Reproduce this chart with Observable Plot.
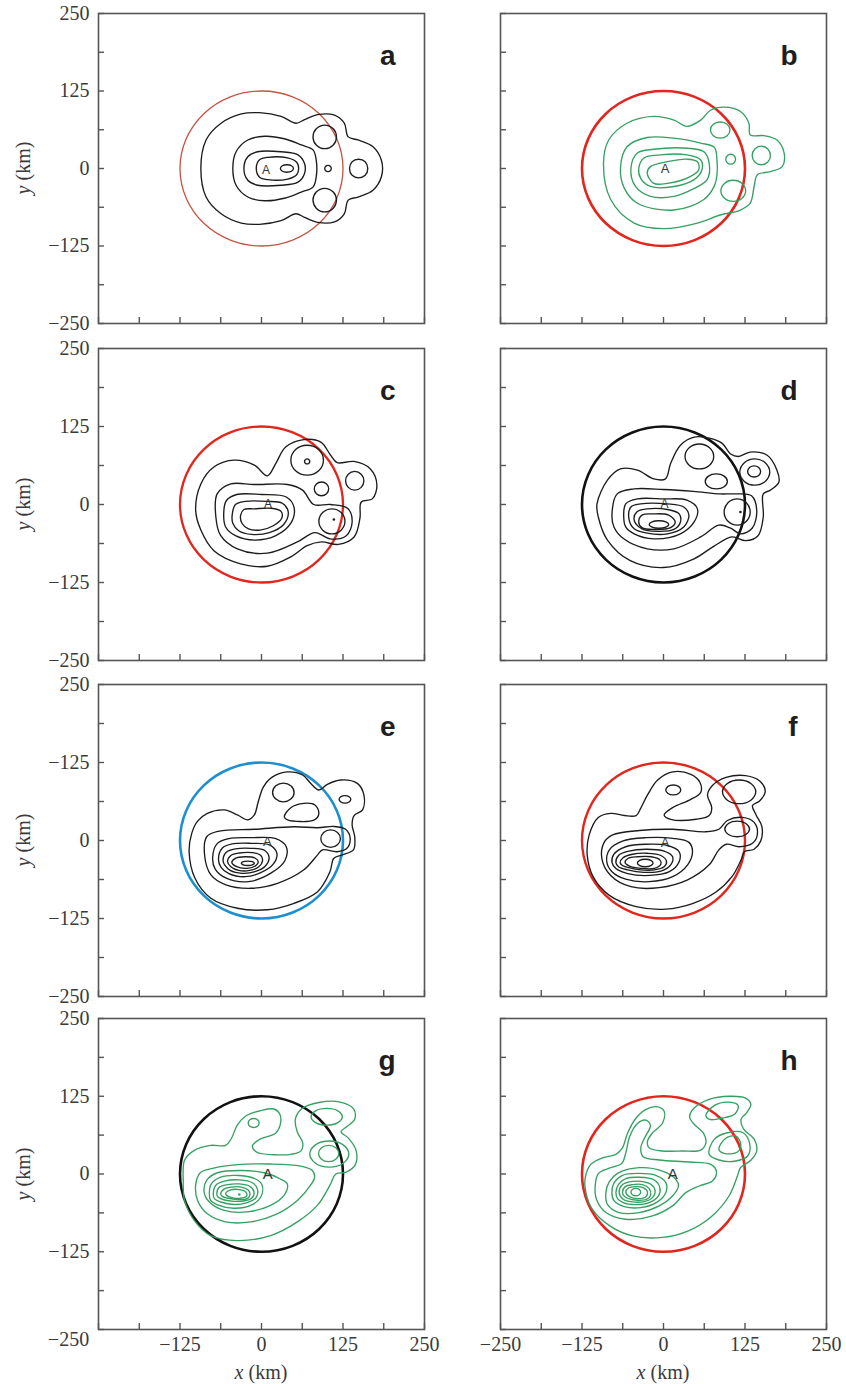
<!DOCTYPE html>
<html>
<head>
<meta charset="utf-8">
<script src="https://cdn.jsdelivr.net/npm/d3@7"></script>
<script src="https://cdn.jsdelivr.net/npm/@observablehq/plot@0.6"></script>
<style>
  body { margin: 0; background: #fff; }
  #wrap { position: relative; width: 846px; height: 1384px; overflow: hidden; }
  .cell { position: absolute; }
  .cell svg { overflow: visible; }
  .axt { position: absolute; font-family: "Liberation Serif", "Times New Roman", serif; font-size: 20px; color: #3a3a3a; white-space: nowrap; line-height: 1; }
</style>
</head>
<body>
<div id="wrap"></div>
<script>
// ---------- axis ticks & labels ----------
const ticksAll = [-250, -187.5, -125, -62.5, 0, 62.5, 125, 187.5, 250];
const ticksMajor = [-250, -125, 0, 125, 250];
const yLabelsStd = ["−250", "−125", "0", "125", "250"];
const yLabelsE   = ["−250", "−125", "0", "−125", "250"];
const yLabelsG   = ["", "−125", "0", "125", "250"];
const xLabelsG   = ["", "−125", "0", "125", "250"];
const xLabelsH   = ["−250", "−125", "0", "125", "250"];
const cornerLabelG = [{x: -250, t: "−250"}];
const panelLetters = ["a", "b", "c", "d", "e", "f", "g", "h"];

// radius-125 km reference circle (km)
const ringPts = [[125,0],[115.5,47.8],[88.4,88.4],[47.8,115.5],[0,125],[-47.8,115.5],[-88.4,88.4],[-115.5,47.8],
                 [-125,0],[-115.5,-47.8],[-88.4,-88.4],[-47.8,-115.5],[0,-125],[47.8,-115.5],[88.4,-88.4],[115.5,-47.8]];

// position of label "A" per panel (km)
const pointA = [[7,-2],[2.6,0],[10,0],[1.5,1],[9,-2],[2.6,-3],[9.5,0],[14,-1]];

// ---------- contour lines (closed loops, km) ----------
const contoursA = [
  [[-93,0],[-85,46],[-62,73],[-31,88],[-3,90],[30,84],[53,73],[66,79],[86,87],[112,86],[127,73],[133,51],[148,46],[171,35],[184,13],[184,-13],[171,-35],[148,-46],[133,-51],[127,-73],[112,-86],[86,-87],[66,-79],[53,-73],[30,-84],[-3,-90],[-31,-88],[-62,-73],[-85,-46]],
  [[-44,0],[-39,27],[-21,46],[5,52],[35,48],[61,38],[79,30],[84,13],[84,-13],[79,-30],[61,-38],[35,-48],[5,-52],[-21,-46],[-39,-27]],
  [[-27,0],[-21,19],[-6,27],[30,27],[56,22],[66,8],[66,-8],[56,-22],[30,-27],[-6,-27],[-21,-19]],
  [[-8,0],[-3,14],[10,18],[40,17],[54,10],[57,0],[54,-10],[40,-17],[10,-18],[-3,-14]],
  [[29,0],[32,4.5],[39,6],[46,4.5],[49,0],[46,-4.5],[39,-6],[32,-4.5]],
  [[79,51],[84,64],[97,70],[110,64],[115,51],[110,38],[97,32],[84,38]],
  [[79,-51],[84,-38],[97,-32],[110,-38],[115,-51],[110,-64],[97,-70],[84,-64]],
  [[97,0],[98.5,3.5],[102,5],[105.5,3.5],[107,0],[105.5,-3.5],[102,-5],[98.5,-3.5]],
  [[135,0],[139,11],[149,15],[159,11],[163,0],[159,-11],[149,-15],[139,-11]]
];

const contoursB = [
  [[-92,9],[-84,46],[-56,73],[-15,84],[16,78],[36,68],[57,78],[72,94],[93,99],[118,92],[131,73],[133,54],[154,53],[174,46],[185,25],[182,3],[164,-5],[144,-10],[139,-29],[133,-56],[118,-67],[87,-75],[52,-88],[0,-97],[-45,-88],[-81,-50]],
  [[-66,0],[-56,35],[-25,50],[16,49],[57,41],[78,34],[82,14],[82,-10],[78,-28],[62,-50],[16,-67],[-40,-56],[-60,-32]],
  [[-50,0],[-40,25],[-15,31],[31,33],[62,27],[70,9],[67,-18],[47,-32],[16,-45],[-20,-45],[-43,-29]],
  [[-38,0],[-30,17],[-5,22],[36,22],[57,14],[59,-2],[47,-18],[16,-29],[-20,-29],[-35,-16]],
  [[-25,-7.5],[-20,3],[6,11],[36,15],[52,11],[54,-2],[41,-13],[6,-24],[-15,-24]],
  [[72,62],[76.4,71.2],[87,75],[97.6,71.2],[102,62],[97.6,52.8],[87,49],[76.4,52.8]],
  [[95.5,15],[97.7,20.7],[103,23],[108.3,20.7],[110.5,15],[108.3,9.3],[103,7],[97.7,9.3]],
  [[136,21],[140,31.6],[150,36],[160,31.6],[164,21],[160,10.4],[150,6],[140,10.4]],
  [[88,-36],[93.6,-24],[107,-19],[120.4,-24],[126,-36],[120.4,-48],[107,-53],[93.6,-48]]
];

const contoursC = [
  [[-101,-9],[-93,33],[-73,60],[-42,71],[-11,63],[9,46],[22,66],[37,92],[65,104],[91,100],[106,79],[116,67],[142,69],[167,57],[177,31],[170,9],[153,4],[151,-22],[142,-52],[118,-64],[92,-60],[70,-66],[45,-84],[9,-99],[-32,-95],[-73,-74],[-93,-41]],
  [[-70,-20],[-68,17],[-47,33],[-11,32],[40,32],[63,23],[80,0],[106,0],[132,-6],[139,-28],[130,-50],[105,-55],[82,-45],[55,-60],[9,-78],[-37,-71],[-63,-49]],
  [[-58,-17],[-54,6],[-38,16],[0,16],[38,12],[50,-5],[45,-30],[22,-50],[-10,-57],[-40,-50],[-55,-36]],
  [[-45,-17],[-40,0],[-25,5],[8,5],[32,2],[41,-12],[34,-32],[12,-45],[-15,-48],[-35,-42],[-44,-30]],
  [[-32,-17],[-27,-8],[-11,-7],[15,-6],[30,-11],[31,-22],[18,-34],[-2,-41],[-20,-39],[-30,-30]],
  [[45,71],[52.3,88],[70,95],[87.7,88],[95,71],[87.7,54],[70,47],[52.3,54]],
  [[66,69],[67.2,71.8],[70,73],[72.8,71.8],[74,69],[72.8,66.2],[70,65],[67.2,66.2]],
  [[81,25],[84.2,32.8],[92,36],[99.8,32.8],[103,25],[99.8,17.2],[92,14],[84.2,17.2]],
  [[129,38],[133.1,48.6],[143,53],[152.9,48.6],[157,38],[152.9,27.4],[143,23],[133.1,27.4]],
  [[88,-27],[93.9,-12.9],[108,-7],[122.1,-12.9],[128,-27],[122.1,-41.1],[108,-47],[93.9,-41.1]]
];

const contoursD = [
  [[-102,1],[-86,39],[-66,57],[-40,55],[-15,41],[3,41],[11,66],[26,95],[47,108],[72,106],[90,98],[103,81],[115,77],[133,84],[159,79],[174,55],[177,36],[164,23],[153,17],[153,-20],[145,-50],[126,-58],[105,-52],[77,-67],[47,-87],[0,-101],[-51,-90],[-86,-57],[-100,-20]],
  [[-79,-15],[-71,17],[-45,25],[0,24],[46,21],[87,17],[108,17],[135,14],[143,-10],[136,-38],[118,-47],[103,-38],[85,-33],[57,-52],[16,-71],[-25,-71],[-61,-55],[-76,-36]],
  [[-61,-20],[-58,1],[-40,9],[0,9],[36,7],[52,-7],[47,-28],[26,-47],[-15,-55],[-45,-47],[-58,-36]],
  [[-53,-23],[-50,-4],[-35,1],[6,1],[31,-4],[39,-17],[31,-36],[6,-47],[-25,-46],[-45,-39]],
  [[-45,-25],[-41,-12],[-25,-7],[6,-8],[24,-15],[26,-28],[16,-40],[-10,-43],[-33,-39]],
  [[-38,-28],[-33,-17],[-15,-15],[8,-17],[18,-28],[11,-37],[-15,-40],[-33,-37]],
  [[-22,-32],[-17.6,-27.8],[-7,-26],[3.6,-27.8],[8,-32],[3.6,-36.2],[-7,-38],[-17.6,-36.2]],
  [[33,77],[39.4,91],[55,97],[70.6,91],[77,77],[70.6,63],[55,57],[39.4,63]],
  [[64,37],[69,45.5],[81,49],[93,45.5],[98,37],[93,28.5],[81,25],[69,28.5]],
  [[129,53],[132,59.4],[139,62],[146,59.4],[149,53],[146,46.6],[139,44],[132,46.6]],
  [[117,52],[124,67],[140,73],[156,67],[163,52],[156,37],[140,31],[124,37]],
  [[93,-12],[98.9,2.8],[113,9],[127.1,2.8],[133,-12],[127.1,-26.8],[113,-33],[98.9,-26.8]]
];

const contoursE = [
  [[-111,-18],[-107,11.5],[-98,31],[-83,43.5],[-57,49],[-37,41],[-21,33],[-11,41],[-5,62],[3,86],[17,102],[40,110],[63,105],[75.6,91.5],[88,81],[101,90],[121.6,97],[147,91.5],[157,73],[155,49],[142,40],[139,25],[143,6],[141,-15],[124,-23],[111,-28.5],[105,-50],[86,-82],[50,-100.6],[9,-111],[-37,-108.6],[-77.6,-92.6],[-102,-60.5]],
  [[-87,-26],[-84,6],[-65,15],[-11,18],[50,22],[86,20.5],[111,22.5],[129,18],[136,3.5],[131,-12.5],[116,-18],[93.5,-15],[86,-23],[65,-47],[24.5,-68.6],[-16,-76.6],[-54.6,-71],[-77.6,-55]],
  [[-75,-28],[-68,-5],[-50,3],[-16,4.5],[22,3],[38,-10],[36,-32],[15,-52],[-20,-66],[-55,-60],[-71,-46]],
  [[-66,-30],[-60,-12],[-45,-5.5],[-16,-4.5],[12,-7],[23.5,-20],[18,-38],[-2,-52],[-25,-58],[-50,-53],[-62,-43]],
  [[-59,-32],[-54,-19],[-40,-13.5],[-16,-12.5],[5,-16],[11.7,-28],[6,-41],[-10,-50],[-30,-52.6],[-48,-48],[-56,-40]],
  [[-52,-34],[-47,-24],[-34,-20],[-14,-19.5],[-1,-24],[1.5,-33],[-4,-42],[-18,-48],[-35,-48],[-47,-42]],
  [[-45.5,-35],[-40,-28.5],[-25,-26],[-10,-28],[-5,-34],[-9,-40.5],[-22,-44.6],[-38,-42]],
  [[-31,-36.5],[-28,-34],[-21,-33],[-14,-34],[-11,-36.5],[-14,-39],[-21,-40],[-28,-39]],
  [[17,77],[22,87.6],[33.5,92],[45,87.6],[50,77],[45,66.4],[33.5,62],[22,66.4]],
  [[35,38],[45,52.6],[65,59.5],[82,57],[88,43.5],[81,33],[40,33]],
  [[119,66],[121.6,70.2],[128,72],[134.4,70.2],[137,66],[134.4,61.8],[128,60],[121.6,61.8]],
  [[91,3],[95.4,12.9],[106,17],[116.6,12.9],[121,3],[116.6,-6.9],[106,-11],[95.4,-6.9]]
];

const contoursF = [
  [[-117,-23],[-114,9],[-100,37],[-81,43.5],[-60,40],[-42,40],[-35,51.5],[-24.5,73],[-9,97],[14,110],[42,106],[56,93],[57,77],[42,66],[14,52.6],[1,41],[11,34],[50,34],[70,40],[74,52.6],[67.5,73],[75,88],[96,101],[126,104],[148,95],[156,78],[147,63],[136.5,56],[142,41],[151,22],[149,-1],[139,-14],[124,-18],[119,-31],[105,-58],[80,-83],[44.5,-101],[3.6,-110],[-42,-106],[-83,-88],[-108,-58]],
  [[-94.6,-28.5],[-91,-3],[-78,9],[-37,16],[14,18],[65,14],[85,18],[98,32],[121,37],[139,29],[144,10],[136.5,-4.5],[116,-10],[96.6,-6],[85,-15],[70,-39],[37,-63],[-6.6,-75.5],[-50,-74],[-81,-56]],
  [[-87,-34],[-83,-15],[-63,-1],[-27,4.5],[14,3.5],[39,-3],[44.5,-18],[37,-39],[14,-58],[-22,-66],[-58,-62],[-79,-50]],
  [[-79,-35],[-76,-22],[-58,-10],[-27,-6],[6,-8],[24,-18],[24,-34],[9,-50],[-22,-56],[-55,-53],[-73,-45]],
  [[-73,-35.5],[-69,-24],[-53,-17],[-27,-14],[1,-17],[14,-26],[11,-39],[-4,-49],[-30,-51],[-55,-47],[-69,-42]],
  [[-66.5,-35.5],[-62,-27.5],[-47.5,-22],[-24.5,-20.5],[-4,-24],[4.6,-33],[1,-42],[-14,-47],[-35,-47],[-53,-43.5],[-63,-40]],
  [[-59,-35],[-54,-28.5],[-40,-26],[-19,-26],[-5.6,-31],[-4,-38],[-14,-44.6],[-35,-44.6],[-52,-41]],
  [[-40,-36],[-36.5,-31.8],[-28,-30],[-19.5,-31.8],[-16,-36],[-19.5,-40.2],[-28,-42],[-36.5,-40.2]],
  [[3.5,81],[6.9,86.7],[15,89],[23.1,86.7],[26.5,81],[23.1,75.3],[15,73],[6.9,75.3]],
  [[90.5,78],[98,91.4],[116,97],[134,91.4],[141.5,78],[134,64.6],[116,59],[98,64.6]],
  [[94,18.5],[99.6,27.3],[113,31],[126.4,27.3],[132,18.5],[126.4,9.7],[113,6],[99.6,9.7]]
];

const contoursG = [
  [[-120,-13],[-118,22],[-103,38],[-78,46],[-55,46],[-46,57.5],[-37,79],[-23,94],[-1,102],[19,104.5],[28,96.5],[29,80.5],[22,66],[-4,55],[-14,45],[-7,35],[19,31],[47,32],[61,37.7],[63,51],[55,67],[52,88.5],[62.6,105.6],[88,115],[119,116],[141,105],[143,88.5],[132,77],[122,68],[133,58],[145,38],[144,15],[130,3],[114,0],[105,-18],[85.6,-50.5],[55,-77],[14,-99],[-37,-107],[-78,-99],[-103,-75],[-118,-42.5]],
  [[-101,-18],[-94,2],[-75,9],[-37,15],[14,16],[60,12.6],[78,5.6],[81.5,-5],[75,-18.4],[55,-42.5],[24,-64],[-16.5,-77],[-55,-77],[-83,-64],[-98,-42.5]],
  [[-88,-29],[-84,-10],[-67.6,2],[-32,5.6],[4,2],[29,-8],[39.6,-16],[34.5,-34.5],[14,-50.5],[-22,-61],[-57,-58.6],[-80,-45]],
  [[-80,-32],[-77,-16],[-62.5,-5],[-34,-2.4],[-9,-8],[1,-18],[-1,-37],[-16.5,-50.5],[-42,-55],[-67.6,-49.5],[-78,-42.5]],
  [[-74,-32],[-70,-18],[-57,-11.5],[-34,-9.4],[-14,-14],[-6,-25],[-9,-39],[-22,-46],[-42,-49],[-62.5,-45],[-72,-40]],
  [[-68.6,-32],[-64.5,-21],[-52,-17],[-34,-16],[-17.6,-20],[-11.4,-29],[-15,-39],[-25.7,-43],[-42,-44],[-58,-41.4],[-66.6,-37]],
  [[-62.5,-32],[-57,-24],[-46,-21],[-31,-21],[-20,-26],[-17.6,-33],[-22.7,-40],[-37,-41],[-51,-39],[-60,-36]],
  [[-55,-32],[-48,-26],[-34,-25],[-24,-29],[-22.7,-35.6],[-32,-39],[-47,-37.7]],
  [[-20.4,82],[-17.9,87.2],[-12,89.3],[-6.1,87.2],[-3.6,82],[-6.1,76.8],[-12,74.7],[-17.9,76.8]],
  [[76,92],[83,101.5],[100,105.5],[117,101.5],[124,92],[117,82.5],[100,78.5],[83,82.5]],
  [[87.5,33],[92,42.2],[103,46],[114,42.2],[118.5,33],[114,23.8],[103,20],[92,23.8]],
  [[74,32],[82.8,46.8],[104,53],[125.2,46.8],[134,32],[125.2,17.2],[104,11],[82.8,17.2]]
];

const contoursH = [
  [[-120,-6],[-111.5,15.5],[-93.6,26],[-73,31.6],[-63,42],[-55,66],[-42,90],[-27,104],[-9,108],[1,101],[-1.5,82],[-17,66],[-24.5,53],[-22,42],[-1.5,37],[29,37],[57,38.5],[65,50],[61,66],[47,80],[40,92],[47,106],[70,120],[101,125],[125,122.5],[134,112],[127,98],[119,88],[123,72],[139,56],[143,37],[134,22],[118,10],[113.5,-3],[100.7,-35],[75,-67],[39,-91],[-1.5,-102],[-47.5,-99.5],[-83,-83],[-109,-57],[-119,-30]],
  [[-104.8,-19.3],[-99.7,1],[-80.8,10.2],[-63.9,17.1],[-57.8,34.2],[-51.6,61],[-39.9,81.3],[-27,86.6],[-20,78],[-28,59.9],[-34.8,42.2],[-31.2,27.8],[-6.6,22.5],[39.4,19.3],[72.6,15.5],[81.3,3.2],[75,-11.2],[54.7,-19.3],[34.3,-29.9],[13.8,-51.3],[-16.9,-67.4],[-57.8,-72.7],[-88.4,-62],[-102.8,-40.6]],
  [[-88.4,-29.9],[-83.3,-12.8],[-70.5,1],[-37.3,10.2],[-1.5,4.8],[19,-8.6],[23,-19.3],[13.8,-35.3],[-6.6,-51.3],[-37.3,-62],[-68,-62],[-86,-48.7]],
  [[-79.2,-29.9],[-75.7,-13.9],[-62.9,-2.1],[-39.9,1],[-11.8,-2.1],[3.6,-13.9],[3.6,-29.9],[-9.2,-44.9],[-34.8,-54],[-60.3,-52.4],[-75.7,-43.3]],
  [[-73,-29.9],[-69,-16.6],[-57.8,-7.5],[-37.3,-5.3],[-14.3,-9.6],[-5.6,-21.9],[-7.7,-35.3],[-22,-46],[-42.4,-49.2],[-61.9,-46],[-70.5,-39.6]],
  [[-68,-29.9],[-63.9,-18.2],[-52.7,-12.8],[-34.8,-11.8],[-19.4,-16.6],[-12.8,-27.3],[-16.9,-38],[-29.7,-44.4],[-47.5,-44.9],[-61.9,-40.6]],
  [[-62.9,-28.9],[-58.8,-20.3],[-47.5,-17.1],[-32.2,-17.1],[-22,-23.5],[-19.4,-32.6],[-26,-40.6],[-39.9,-42.2],[-55.2,-39],[-61.3,-34.2]],
  [[-57.8,-28.9],[-53.7,-22.5],[-43.5,-20.3],[-31.2,-21.9],[-24.5,-28.9],[-27.1,-36.4],[-38.3,-39.6],[-51.6,-36.9]],
  [[-50,-29],[-47.8,-24.8],[-42.5,-23],[-37.2,-24.8],[-35,-29],[-37.2,-33.2],[-42.5,-35],[-47.8,-33.2]],
  [[65,94],[77.7,110],[100.7,115.5],[114.5,110],[110,97],[90.5,90],[71,87.7]],
  [[85,39.6],[94.6,56.7],[111,61],[118.6,47.6],[113.5,35.3],[93,33.2]],
  [[70,31.6],[77.7,55.6],[98,66.3],[122,66.3],[132.4,47.6],[129,28.9],[111,20.9],[85,22.5]]
];

// single grid-point markers (km)
const dotsC = [[111,-24]];
const dotsD = [[118,-12]];
const dotsG = [[-34,-33]];

// ---------- layout / styling (not data) ----------
const colLeft = [0, 420], colWidth = [430, 420], mLeft = [98, 80], mRight = [6, 14];
const rowTop = [13, 348, 684, 1018], rowH = [310, 312, 312, 311];
const FW = 326;
const BLACK = "#1c1c1c", GREEN = "#35a062", RED = "#e2261e", BLUE = "#1d8fcf", RINGBLACK = "#121212";

const specs = [
  {row:0, col:0, contours:contoursA, line:BLACK, ring:"#c55442", ringW:1.3, yl:yLabelsStd, aSize:12},
  {row:0, col:1, contours:contoursB, line:GREEN, ring:RED, ringW:2.6, aSize:13},
  {row:1, col:0, contours:contoursC, line:BLACK, ring:RED, ringW:2.3, yl:yLabelsStd, dots:dotsC, aSize:12},
  {row:1, col:1, contours:contoursD, line:BLACK, ring:RINGBLACK, ringW:2.6, dots:dotsD, aSize:12},
  {row:2, col:0, contours:contoursE, line:BLACK, ring:BLUE, ringW:2.6, yl:yLabelsE, aSize:13},
  {row:2, col:1, contours:contoursF, line:BLACK, ring:RED, ringW:2.4, aSize:13},
  {row:3, col:0, contours:contoursG, line:GREEN, ring:RINGBLACK, ringW:2.6, yl:yLabelsG, xl:xLabelsG, corner:cornerLabelG, dots:dotsG, aSize:15},
  {row:3, col:1, contours:contoursH, line:GREEN, ring:RED, ringW:2.6, xl:xLabelsH, aSize:15}
];

const wrap = document.getElementById("wrap");
const SERIF = '"Liberation Serif", "Times New Roman", serif';
const SANS = '"Liberation Sans", Arial, sans-serif';

specs.forEach((s, i) => {
  const fh = rowH[s.row];
  const mt = 10, mb = s.row === 3 ? 55 : 10;
  const rows = s.contours.flatMap((pts, k) => pts.map(([x, y]) => ({k, x, y})));
  const ring = ringPts.map(([x, y]) => ({x, y}));
  const marks = [
    Plot.line(ring, {x: "x", y: "y", curve: "catmull-rom-closed", stroke: s.ring, strokeWidth: s.ringW}),
    Plot.line(rows, {x: "x", y: "y", z: "k", curve: "catmull-rom-closed", stroke: s.line, strokeWidth: 1.35}),
    Plot.tickY(ticksAll, {y: d => d, stroke: "#555", strokeWidth: 1.4, insetRight: FW - 6}),
    Plot.tickX(ticksAll, {x: d => d, stroke: "#555", strokeWidth: 1.4, insetTop: fh - 6}),
    Plot.frame({stroke: "#555", strokeWidth: 1.6}),
    Plot.text([pointA[i]], {x: d => d[0], y: d => d[1], text: () => "A", fontFamily: SANS, fontSize: s.aSize, fill: "#333"}),
    Plot.text([panelLetters[i]], {frameAnchor: "top-right", text: d => d, dx: -29, dy: 32, textAnchor: "end",
      fontFamily: SANS, fontWeight: "bold", fontSize: 28, fill: "#1e1e1e"})
  ];
  if (s.dots) marks.push(Plot.dot(s.dots, {x: d => d[0], y: d => d[1], r: 1.3, fill: s.line}));
  if (s.yl) marks.push(Plot.axisY(ticksMajor, {tickSize: 0, tickPadding: 9, label: null,
      tickFormat: d => s.yl[ticksMajor.indexOf(d)], fontSize: 20, fontFamily: SERIF, fill: "#3a3a3a"}));
  if (s.xl) marks.push(Plot.axisX(ticksMajor, {tickSize: 0, tickPadding: 7, label: null,
      tickFormat: d => s.xl[ticksMajor.indexOf(d)], fontSize: 20, fontFamily: SERIF, fill: "#3a3a3a"}));
  if (s.corner) marks.push(Plot.text(s.corner, {x: "x", text: "t", frameAnchor: "bottom", dx: -30, dy: 16,
      fontSize: 20, fontFamily: SERIF, fill: "#3a3a3a"}));

  const svg = Plot.plot({
    width: colWidth[s.col],
    height: mt + fh + mb,
    marginLeft: mLeft[s.col], marginRight: mRight[s.col], marginTop: mt, marginBottom: mb,
    x: {domain: [-250, 250], axis: null},
    y: {domain: [-250, 250], axis: null},
    style: {background: "transparent", overflow: "visible", fontFamily: SERIF, fontSize: "20px", color: "#3a3a3a", maxWidth: "none"},
    marks
  });
  const cell = document.createElement("div");
  cell.className = "cell";
  cell.style.left = colLeft[s.col] + "px";
  cell.style.top = (rowTop[s.row] - mt) + "px";
  cell.appendChild(svg);
  wrap.appendChild(cell);
});

// axis titles
rowTop.forEach((t, r) => {
  const d = document.createElement("div");
  d.className = "axt";
  d.innerHTML = "<i>y</i> (km)";
  d.style.left = "23px";
  d.style.top = (t + rowH[r] / 2) + "px";
  d.style.transform = "translate(-50%,-50%) rotate(-90deg)";
  wrap.appendChild(d);
});
[261, 663].forEach(cx => {
  const d = document.createElement("div");
  d.className = "axt";
  d.innerHTML = "<i>x</i> (km)";
  d.style.left = cx + "px";
  d.style.top = "1372px";
  d.style.transform = "translate(-50%,-50%)";
  wrap.appendChild(d);
});
</script>
</body>
</html>
